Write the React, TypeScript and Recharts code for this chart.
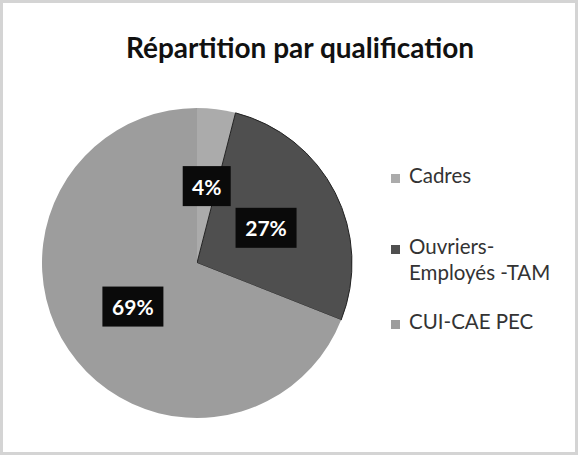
import React from 'react';
import { PieChart, Pie, Cell, Legend } from 'recharts';

// Répartition des effectifs par qualification (en %)
const categories = ['Cadres', 'Ouvriers-Employés -TAM', 'CUI-CAE PEC'];
const shares = [4, 27, 69];
const legendLines = [['Cadres'], ['Ouvriers-', 'Employés -TAM'], ['CUI-CAE PEC']];
const COLORS = ['#ababab', '#4f4f4f', '#9d9d9d'];

const data = categories.map((name, i) => ({ name, value: shares[i] }));

const RADIAN = Math.PI / 180;

// étiquette noire au milieu du rayon, comme dans Excel
const renderLabel = (props: any) => {
  const { cx, cy, midAngle, outerRadius, value } = props;
  const r = outerRadius * 0.5;
  const x = cx + r * Math.cos(-midAngle * RADIAN);
  const y = cy + r * Math.sin(-midAngle * RADIAN);
  const text = `${value}%`;
  const w = text.length * 13 + 22;
  return (
    <g>
      <rect x={x - w / 2} y={y - 20} width={w} height={40} fill="#0a0a0a" />
      <text
        x={x}
        y={y}
        fill="#ffffff"
        textAnchor="middle"
        dominantBaseline="central"
        fontFamily="Lato, 'Open Sans', sans-serif"
        fontWeight="bold"
        fontSize={21}
      >
        {text}
      </text>
    </g>
  );
};

const renderLegend = () => (
  <div style={{ fontFamily: "Lato, 'Open Sans', sans-serif", fontSize: 20.5, color: '#333' }}>
    {legendLines.map((lines, i) => (
      <div key={i} style={{ display: 'flex', alignItems: 'flex-start', marginBottom: i === 0 ? 49 : 27 }}>
        <span
          style={{
            display: 'inline-block',
            width: 9,
            height: 9,
            background: COLORS[i],
            marginTop: 8,
            marginRight: 9,
            flexShrink: 0,
          }}
        />
        <div style={{ lineHeight: '26px', marginTop: -4 }}>
          {lines.map((l, j) => (
            <div key={j}>{l}</div>
          ))}
        </div>
      </div>
    ))}
  </div>
);

export default function App() {
  return (
    <div
      style={{
        position: 'absolute',
        left: 0,
        top: 0,
        width: 578,
        height: 455,
        background: '#ffffff',
        boxSizing: 'border-box',
        border: '3px solid #d4d4d4',
      }}
    >
      <div
        style={{
          position: 'absolute',
          left: 0,
          top: 27,
          width: 594,
          textAlign: 'center',
          fontFamily: "Lato, 'Open Sans', sans-serif",
          fontWeight: 'bold',
          fontSize: 28,
          color: '#111',
        }}
      >
        Répartition par qualification
      </div>
      <PieChart width={572} height={449} style={{ position: 'absolute', left: 0, top: 0 }}>
        <Pie
          data={data}
          dataKey="value"
          nameKey="name"
          cx={189}
          cy={255}
          outerRadius={155}
          startAngle={90}
          endAngle={-270}
          label={renderLabel}
          labelLine={false}
          isAnimationActive={false}
        >
          {data.map((entry, index) => (
            <Cell
              key={`cell-${index}`}
              fill={COLORS[index]}
              stroke={index === 1 ? '#222' : 'none'}
              strokeWidth={1}
            />
          ))}
        </Pie>
        <Legend
          content={renderLegend}
          wrapperStyle={{ position: 'absolute', left: 388, top: 163, width: 185 }}
        />
      </PieChart>
    </div>
  );
}
